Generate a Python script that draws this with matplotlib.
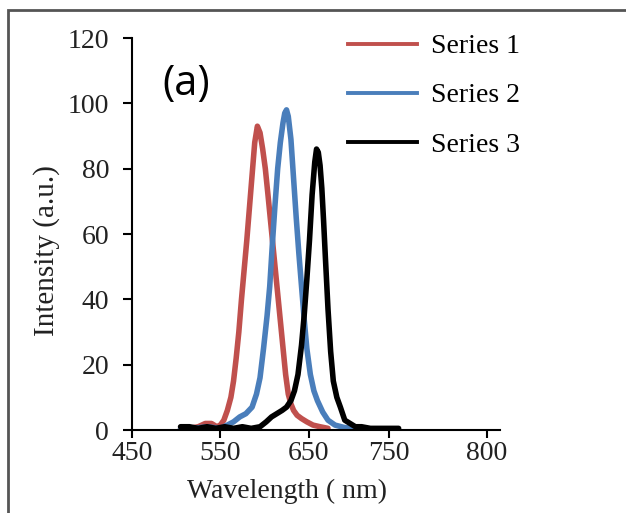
import matplotlib
matplotlib.use("Agg")
import matplotlib.pyplot as plt
from matplotlib.lines import Line2D
from matplotlib.patches import Rectangle

# Series data (wavelength in nm, intensity in a.u.)
wl1 = [505, 515, 525, 533, 540, 546, 550, 554, 558, 562, 565, 568, 571, 574,
       577, 580, 583, 586, 589, 592, 595, 598, 601, 604, 608, 612, 616, 620,
       624, 627, 630, 633, 637, 642, 648, 655, 663, 672]
int1 = [0.5, 0.5, 1, 2, 2, 1, 1.5, 3, 6, 10, 15, 22, 30, 40,
        49, 58, 68, 78, 88, 93, 91, 86, 80, 72, 61, 50, 39, 28,
        17, 11, 8, 6, 4.5, 3.5, 2.5, 1.5, 1, 0.5]

wl2 = [505, 520, 535, 550, 558, 565, 572, 579, 586, 591, 595, 599, 603, 606,
       609, 612, 615, 618, 621, 623, 625, 627, 630, 633, 636, 639, 642, 645,
       648, 652, 656, 660, 666, 672, 680, 690, 700, 712]
int2 = [0.5, 0.5, 1, 0.5, 1.5, 2.5, 4, 5, 7, 11, 16, 25, 35, 44,
        57, 69, 80, 88, 94, 97, 98, 96, 89, 77, 65, 54, 44, 34,
        25, 17, 12, 9, 5.5, 3, 1.5, 0.8, 0.5, 0.3]

wl3 = [505, 515, 525, 535, 545, 555, 565, 575, 585, 595, 602, 608, 614, 620,
       625, 630, 634, 638, 642, 645, 648, 651, 654, 657, 659, 661, 663, 665,
       667, 669, 672, 675, 678, 682, 686, 691, 697, 703, 710, 720, 735, 752]
int3 = [1, 1, 0.5, 1, 0.5, 1, 0.5, 1, 0.5, 1, 2.5, 4, 5, 6,
        7, 9, 12, 17, 26, 35, 46, 58, 72, 82, 86, 85, 81, 74,
        64, 53, 37, 24, 15, 10, 7, 3, 2, 1, 1, 0.5, 0.5, 0.5]

series_names = ["Series 1", "Series 2", "Series 3"]
series_colors = ["#C0504D", "#4A7EBB", "#000000"]

# tick labels as printed on the original (spacing is not uniform there)
xtick_pos = [450, 550, 650, 741, 852]
xtick_lab = ["450", "550", "650", "750", "800"]
ytick_pos = [0, 20, 40, 60, 80, 100, 120]

W, H = 626, 513
fig = plt.figure(figsize=(W / 100, H / 100), dpi=100)
ax = fig.add_axes([132 / W, 83 / H, 368 / W, 392 / H])

serif = "Liberation Serif"
for x, y, c in zip([wl1, wl2, wl3], [int1, int2, int3], series_colors):
    ax.plot(x, y, color=c, lw=4, solid_capstyle="round",
            solid_joinstyle="round")

ax.set_xlim(450, 866.8)
ax.set_ylim(0, 120)
ax.spines["top"].set_visible(False)
ax.spines["right"].set_visible(False)
for s in ["left", "bottom"]:
    ax.spines[s].set_linewidth(1.5)

ax.set_xticks(xtick_pos)
ax.set_xticklabels(xtick_lab)
ax.set_yticks(ytick_pos)
ax.tick_params(axis="y", direction="out", length=6.5, width=1.5, pad=10,
               labelsize=20, labelcolor="#222222")
ax.tick_params(axis="x", direction="out", length=6, width=1.5, pad=2,
               labelsize=20, labelcolor="#222222")
for lab in ax.get_xticklabels() + ax.get_yticklabels():
    lab.set_family(serif)

ax.set_xlabel("Wavelength ( nm)", fontsize=20, family=serif, color="#222222")
ax.xaxis.set_label_coords(0.421, -0.125)
ax.set_ylabel("Intensity (a.u.)", fontsize=21, family=serif, color="#222222",
              va="center")
ax.yaxis.set_label_coords(-0.232, 0.457)

handles = [Line2D([], [], color=c, lw=2.8) for c in series_colors]
ax.legend(handles, series_names, loc="upper left",
          bbox_to_anchor=(348 / W, 1 - 34 / H), bbox_transform=fig.transFigure,
          frameon=False, borderpad=0, borderaxespad=0, handlelength=2.5,
          handletextpad=0.5, labelspacing=0.85,
          prop={"family": serif, "size": 20})

fig.text(186 / W, 1 - 84 / H, "(a)", ha="center", va="center", fontsize=30,
         family="Open Sans")

# outer frame of the original picture (cut off at right and bottom)
fig.add_artist(Rectangle((8 / W, -0.5), 2, 1.5 - 10 / H,
                         transform=fig.transFigure, fill=False,
                         edgecolor="#555555", lw=2))

fig.savefig("out.png", dpi=100)
